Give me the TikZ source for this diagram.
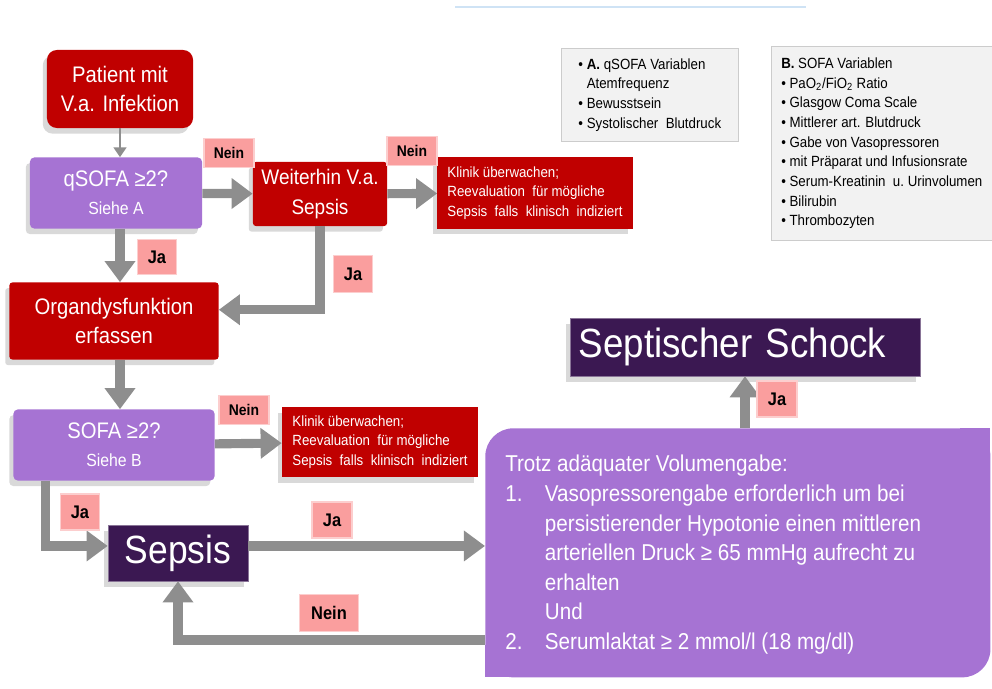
\documentclass[tikz,border=0pt]{standalone}
\usepackage{fontspec}
\setmainfont[FakeStretch=0.9]{Liberation Sans}
\usetikzlibrary{positioning, arrows.meta, shadows}

\definecolor{sepRed}{HTML}{C00000}
\definecolor{sepViolet}{HTML}{A673D3}
\definecolor{sepDark}{HTML}{3B1852}
\definecolor{sepPink}{HTML}{FA9E9E}
\definecolor{sepGray}{HTML}{8E8E8E}
\definecolor{noteGray}{HTML}{F2F2F2}
\definecolor{lineBlue}{HTML}{CFE3F5}

\tikzstyle{shade} = [drop shadow={shadow xshift=-3pt, shadow yshift=-4pt, opacity=0.3}]
\tikzstyle{redbox} = [rectangle, fill=sepRed, text=white, align=center, inner sep=2pt, rounded corners=2pt, shade, font=\fontsize{16}{21}\selectfont]
\tikzstyle{askbox} = [rectangle, fill=sepViolet, text=white, align=center, inner sep=2pt, rounded corners=3pt, shade, font=\fontsize{16}{20}\selectfont]
\tikzstyle{endbox} = [rectangle, fill=sepDark, text=white, draw=sepDark!60!white, align=left, inner sep=4pt, shade]
\tikzstyle{infobox} = [rectangle, fill=sepRed, text=white, align=left, inner sep=4pt, shade, font=\fontsize{10.5}{14}\selectfont]
\tikzstyle{tag} = [rectangle, fill=sepPink, draw=sepPink!50!white, line width=0.8pt, inner sep=0pt, font=\bfseries\fontsize{11}{11}\selectfont]
\tikzstyle{note} = [rectangle, fill=noteGray, draw=black!20, anchor=north west, align=left, inner sep=5pt, font=\fontsize{10.5}{14}\selectfont]
\tikzstyle{flow} = [line width=6.5pt, draw=sepGray, -{Triangle[length=15pt,width=21pt]}]
\tikzstyle{thinflow} = [line width=2pt, draw=sepGray, -{Triangle[length=7pt,width=9pt]}]

\begin{document}
\begin{tikzpicture}[x=0.025cm, y=-0.025cm]
    \useasboundingbox (0,0) rectangle (992,689);
    \draw[lineBlue, line width=0.8pt] (455,7) -- (806,7);

    % Nodes
    \node[redbox, rounded corners=7pt, minimum width=3.65cm, minimum height=1.95cm] (patient) at (120,89) {Patient mit\\V.a. Infektion};
    \node[askbox, minimum width=4.3cm, minimum height=1.775cm] (qsofa) at (116,193) {qSOFA ≥2?\\{\fontsize{12.5}{15}\selectfont Siehe A}};
    \node[redbox, minimum width=3.35cm, minimum height=1.6cm, font=\fontsize{15}{21}\selectfont] (weiter) at (320,194) {Weiterhin V.a.\\Sepsis};
    \node[infobox, minimum width=4.875cm, minimum height=1.775cm] (klinikA) at (535,193) {Klinik überwachen;\\Reevaluation\ \ für mögliche\\Sepsis\ \ falls\ \ klinisch\ \ indiziert};
    \node[redbox, minimum width=5.225cm, minimum height=1.925cm] (organ) at (114,321) {Organdysfunktion\\erfassen};
    \node[askbox, minimum width=5.025cm, minimum height=1.775cm] (sofa) at (114,445) {SOFA ≥2?\\{\fontsize{12.5}{15}\selectfont Siehe B}};
    \node[infobox, minimum width=4.9cm, minimum height=1.75cm] (klinikB) at (380,442) {Klinik überwachen;\\Reevaluation\ \ für mögliche\\Sepsis\ \ falls\ \ klinisch\ \ indiziert};
    \node[endbox, minimum width=3.5cm, minimum height=1.4cm, font=\fontsize{28}{28}\selectfont] (sepsis) at (178,553) {Sepsis};
    \node[endbox, minimum width=8.75cm, minimum height=1.45cm, font=\fontsize{29}{29}\selectfont, text width=8.3cm] (schock) at (745,347) {Septischer Schock};

    % big criteria box
    \fill[sepViolet] (960,428) rectangle (990,460);
    \fill[sepViolet] (485,645) rectangle (515,677);
    \node[rectangle, fill=sepViolet, rounded corners=20pt, minimum width=12.625cm, minimum height=6.225cm, anchor=north west, inner sep=0pt] (big) at (485,428) {};
    \node[text=white, anchor=north west, inner sep=0pt, font=\fontsize{16.3}{21}\selectfont] (crit) at (505,451) {%
        \begin{tabular}{@{}l@{\hspace{16pt}}l@{}}
        \multicolumn{2}{@{}l@{}}{Trotz adäquater Volumengabe:}\\
        1. & Vasopressorengabe erforderlich um bei\\
           & persistierender Hypotonie einen mittleren\\
           & arteriellen Druck ≥ 65 mmHg aufrecht zu\\
           & erhalten\\
           & Und\\
        2. & Serumlaktat ≥ 2 mmol/l (18 mg/dl)
        \end{tabular}};

    % variable lists
    \node[note, minimum width=4.425cm, minimum height=2.3cm] (listA) at (561,48) {%
        \begin{tabular}{@{}l@{\ }l@{}}
        • & \textbf{A.} qSOFA Variablen\\
          & Atemfrequenz\\
        • & Bewusstsein\\
        • & Systolischer\ \ Blutdruck
        \end{tabular}};
    \node[note, minimum width=5.525cm, minimum height=4.85cm] (listB) at (771,46) {%
        \begin{tabular}{@{}l@{\ }l@{}}
        \multicolumn{2}{@{}l@{}}{\textbf{B.} SOFA Variablen}\\
        • & PaO\textsubscript{2}/FiO\textsubscript{2} Ratio\\
        • & Glasgow\ Coma\ Scale\\
        • & Mittlerer art. Blutdruck\\
        • & Gabe\ von\ Vasopressoren\\
        • & mit Präparat und Infusionsrate\\
        • & Serum-Kreatinin\ \ u.\ Urinvolumen\\
        • & Bilirubin\\
        • & Thrombozyten
        \end{tabular}};

    % Edges
    \draw[thinflow] (patient) -- (qsofa.north -| patient);
    \draw[flow] (qsofa) -- (weiter);
    \draw[flow] (weiter) -- (klinikA);
    \draw[flow] (qsofa.south -| patient) -- (organ.north -| patient);
    \draw[flow] (weiter.south) |- ([yshift=8pt]organ.east);
    \draw[flow] (organ.south -| patient) -- (sofa.north -| patient);
    \draw[flow] (sofa) -- (klinikB);
    \draw[flow] ([xshift=23pt]sofa.south west) |- ([yshift=5pt]sepsis.west);
    \draw[flow] ([yshift=5pt]sepsis.east) -- ([yshift=5pt]sepsis.east -| big.west);
    \coordinate (back) at (485,640);
    \draw[flow] (back) -| (sepsis.south);
    \draw[flow] (schock.south |- big.north) -- (schock.south);

    % Labels
    \node[tag, minimum width=1.25cm, minimum height=0.72cm] (nein1) at (229,153) {Nein};
    \node[tag, minimum width=1.25cm, minimum height=0.72cm] (nein2) at (412,151) {Nein};
    \node[tag, minimum width=1.25cm, minimum height=0.72cm] (nein3) at (244,410) {Nein};
    \node[tag, minimum width=1.48cm, minimum height=0.92cm, font=\bfseries\fontsize{13}{13}\selectfont] (nein4) at (329,613) {Nein};
    \node[tag, minimum width=0.98cm, minimum height=0.88cm, font=\bfseries\fontsize{13}{13}\selectfont] (ja1) at (157,257) {Ja};
    \node[tag, minimum width=0.98cm, minimum height=0.92cm, font=\bfseries\fontsize{13}{13}\selectfont] (ja2) at (353,274) {Ja};
    \node[tag, minimum width=0.98cm, minimum height=0.9cm, font=\bfseries\fontsize{13}{13}\selectfont] (ja3) at (80,512) {Ja};
    \node[tag, minimum width=1cm, minimum height=0.9cm, font=\bfseries\fontsize{13}{13}\selectfont] (ja4) at (332,520) {Ja};
    \node[tag, minimum width=1cm, minimum height=0.9cm, font=\bfseries\fontsize{13}{13}\selectfont] (ja5) at (777,399) {Ja};
\end{tikzpicture}
\end{document}
